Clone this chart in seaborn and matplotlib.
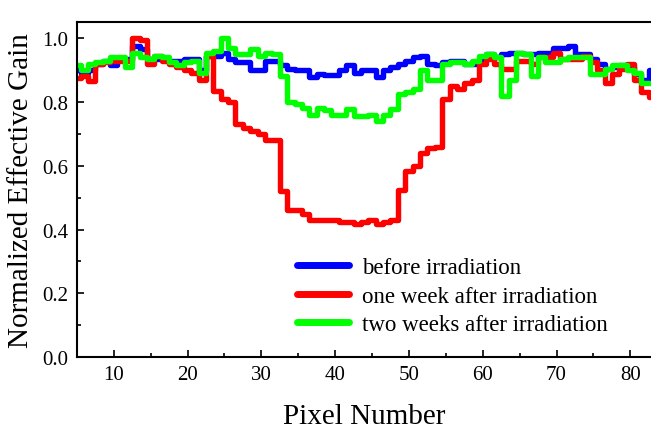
import numpy as np
import pandas as pd
import seaborn as sns
import matplotlib
matplotlib.use("Agg")
import matplotlib.pyplot as plt
from matplotlib.ticker import MultipleLocator

# pixel index 5..83
pixels = list(range(5, 84))

before = [0.90, 0.89, 0.90, 0.92, 0.93, 0.915, 0.935, 0.935, 0.975, 0.965,
          0.935, 0.935, 0.935, 0.93, 0.93, 0.935, 0.935, 0.90, 0.945, 0.945,
          0.955, 0.935, 0.925, 0.925, 0.90, 0.90, 0.93, 0.93, 0.915, 0.905,
          0.90, 0.90, 0.877, 0.887, 0.885, 0.885, 0.90, 0.915, 0.89, 0.90,
          0.90, 0.877, 0.90, 0.91, 0.92, 0.93, 0.94, 0.945, 0.92, 0.915,
          0.925, 0.93, 0.93, 0.92, 0.92, 0.935, 0.95, 0.94, 0.95, 0.955,
          0.955, 0.95, 0.95, 0.955, 0.955, 0.97, 0.97, 0.977, 0.95, 0.95,
          0.935, 0.92, 0.905, 0.91, 0.915, 0.91, 0.887, 0.87, 0.90]

one_week = [0.875, 0.88, 0.865, 0.92, 0.925, 0.93, 0.93, 0.93, 1.0, 0.995,
            0.92, 0.945, 0.93, 0.92, 0.91, 0.90, 0.89, 0.87, 0.945, 0.835,
            0.81, 0.80, 0.73, 0.72, 0.71, 0.70, 0.68, 0.68, 0.52, 0.46,
            0.46, 0.45, 0.43, 0.43, 0.43, 0.43, 0.424, 0.424, 0.417, 0.424,
            0.43, 0.417, 0.424, 0.43, 0.525, 0.585, 0.598, 0.64, 0.655, 0.66,
            0.81, 0.85, 0.84, 0.86, 0.87, 0.92, 0.935, 0.92, 0.905, 0.905,
            0.93, 0.93, 0.92, 0.94, 0.94, 0.955, 0.935, 0.935, 0.935, 0.945,
            0.925, 0.90, 0.86, 0.887, 0.905, 0.92, 0.87, 0.83, 0.815]

two_weeks = [0.915, 0.90, 0.92, 0.925, 0.93, 0.94, 0.94, 0.91, 0.955, 0.94,
             0.935, 0.945, 0.94, 0.925, 0.915, 0.925, 0.93, 0.89, 0.955, 0.96,
             1.0, 0.97, 0.95, 0.95, 0.965, 0.945, 0.955, 0.95, 0.88, 0.80,
             0.795, 0.78, 0.76, 0.78, 0.775, 0.76, 0.76, 0.777, 0.755, 0.755,
             0.76, 0.74, 0.76, 0.777, 0.825, 0.83, 0.84, 0.90, 0.87, 0.87,
             0.92, 0.925, 0.925, 0.92, 0.93, 0.945, 0.95, 0.94, 0.82, 0.87,
             0.955, 0.95, 0.88, 0.94, 0.925, 0.925, 0.935, 0.94, 0.94, 0.94,
             0.887, 0.887, 0.905, 0.915, 0.915, 0.90, 0.89, 0.86, 0.86]

labels = ["before irradiation", "one week after irradiation", "two weeks after irradiation"]
colors = ["#0000ff", "#ff0000", "#00ff00"]

df = pd.DataFrame({
    "Pixel": pixels * 3,
    "Gain": before + one_week + two_weeks,
    "Series": [labels[0]] * len(pixels) + [labels[1]] * len(pixels) + [labels[2]] * len(pixels),
})

sns.set_style("ticks")
plt.rcParams["font.family"] = ["Liberation Serif", "DejaVu Serif"]
plt.rcParams["text.color"] = "black"
plt.rcParams["axes.labelcolor"] = "black"
plt.rcParams["xtick.color"] = "black"
plt.rcParams["ytick.color"] = "black"
plt.rcParams["axes.edgecolor"] = "black"

fig = plt.figure(figsize=(6.51, 4.31), dpi=100)
ax = fig.add_axes([0.118, 0.169, 0.882, 0.777])

sns.lineplot(data=df, x="Pixel", y="Gain", hue="Series", palette=colors,
             drawstyle="steps-mid", linewidth=3.9, ax=ax, legend=True)

ax.set_xlim(5, 82.8)
ax.set_ylim(0, 1.05)
ax.xaxis.set_major_locator(MultipleLocator(10))
ax.xaxis.set_minor_locator(MultipleLocator(5))
ax.yaxis.set_major_locator(MultipleLocator(0.2))
ax.yaxis.set_minor_locator(MultipleLocator(0.1))
ax.yaxis.set_major_formatter(matplotlib.ticker.FormatStrFormatter("%.1f"))
ax.tick_params(which="major", direction="in", length=5, width=1.2, labelsize=15, pad=6)
ax.tick_params(which="minor", direction="in", length=3, width=1.2)
ax.spines["right"].set_visible(False)
for s in ["left", "bottom", "top"]:
    ax.spines[s].set_linewidth(1.5)

ax.set_xlabel("Pixel Number", fontsize=21, labelpad=13)
ax.set_ylabel("Normalized Effective Gain", fontsize=21, labelpad=6)

leg = ax.legend(loc="center left", bbox_to_anchor=(0.368, 0.182), borderaxespad=0,
                frameon=False, fontsize=16.5, handlelength=2.27, handletextpad=0.57,
                labelspacing=0.33)
for line in leg.get_lines():
    line.set_linewidth(5)

fig.savefig("out.png", dpi=100)
